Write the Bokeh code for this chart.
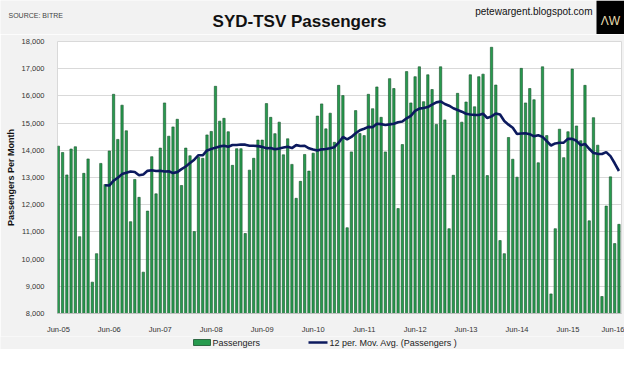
from bokeh.plotting import figure
from bokeh.layouts import column
from bokeh.models import FixedTicker, NumeralTickFormatter, Range1d
from bokeh.embed import file_html
from bokeh.resources import INLINE
from bokeh.core.properties import value
import pandas as pd

passengers = [
    14153, 13918, 13094, 14047, 14130, 10824, 13153, 13682, 9153, 10200, 13518, 12741,
    13976, 16059, 14400, 15659, 14718, 11376, 12929, 12271, 9520, 11765, 13765, 12400,
    14082, 15741, 14518, 14859, 15141, 12706, 14082, 13800, 11012, 13741, 13706, 14565,
    14694, 16353, 15071, 15176, 14682, 13447, 14059, 14059, 10941, 13271, 13706, 14376,
    14376, 15718, 15212, 14612, 15035, 13835, 14424, 13482, 12235, 12859, 13847, 13235,
    13894, 15259, 15706, 14788, 15365, 14294, 16388, 16012, 11153, 13941, 15459, 14620,
    14541, 16059, 15529, 16329, 15212, 13941, 16635, 16271, 11859, 14212, 16894, 15741,
    16706, 17071, 15788, 16776, 16235, 14953, 17071, 15118, 11118, 13082, 16094, 15035,
    15776, 16776, 15600, 16706, 16800, 13071, 17788, 16400, 10682, 10200, 14471, 13671,
    13012, 17012, 15741, 16271, 15859, 13541, 17071, 14541, 8720, 11118, 14776, 13729,
    14682, 16988, 14894, 14353, 16388, 11408, 15200, 14188, 8625, 11950, 13024, 10571,
    11278,
]
tick_labels = ["Jun-05", "Jun-06", "Jun-07", "Jun-08", "Jun-09", "Jun-10", "Jun-11",
               "Jun-12", "Jun-13", "Jun-14", "Jun-15", "Jun-16"]
y_ticks = [8000, 9000, 10000, 11000, 12000, 13000, 14000, 15000, 16000, 17000, 18000]
ma_window = 12

title_text = "SYD-TSV Passengers"
source_text = "SOURCE: BITRE"
site_text = "petewargent.blogspot.com"
logo_text = "ΛW"
legend_labels = ["Passengers", "12 per. Mov. Avg. (Passengers )"]

months = list(range(len(passengers)))
moving_avg = pd.Series(passengers).rolling(ma_window).mean().tolist()
label_positions = [i * 12 for i in range(len(tick_labels))]

SANS = "Liberation Sans"
BG = "#F2F2F2"
BAR_FILL = "#279B4E"
BAR_LINE = "#17502B"
MA_COLOR = "#0C1A5E"
W = 624


def blank(height):
    f = figure(width=W, height=height, output_backend="svg", toolbar_location=None,
               x_range=Range1d(0, W), y_range=Range1d(height, 0),
               min_border=0, background_fill_color=BG, border_fill_color=BG,
               outline_line_color=None, frame_align=False)
    f.axis.visible = False
    f.grid.visible = False
    return f


# ---------- header ----------
hdr = blank(34)
hdr.quad(left=[596], right=[624], top=[0], bottom=[34], fill_color="black", line_color=None)
hdr.text(x=[610], y=[20], text=[logo_text], text_align="center", text_baseline="middle",
         text_font=value(SANS), text_font_size="12px", text_color="#E6DDB0")
hdr.text(x=[8], y=[15], text=[source_text], text_align="left", text_baseline="middle",
         text_font=value(SANS), text_font_size="7px", text_color="#444444")
hdr.text(x=[299], y=[21], text=[title_text], text_align="center", text_baseline="middle",
         text_font=value(SANS), text_font_size="17px", text_font_style="bold",
         text_color="#111111")
hdr.text(x=[592], y=[11], text=[site_text], text_align="right", text_baseline="middle",
         text_font=value(SANS), text_font_size="10px", text_color="#111111")

# ---------- main chart ----------
p = figure(width=W, height=302, output_backend="svg", toolbar_location=None,
           x_range=Range1d(-0.2, 132.6), y_range=Range1d(8000, 18000),
           min_border_left=57, min_border_right=3, min_border_top=7, min_border_bottom=17,
           background_fill_color="white", border_fill_color=BG,
           outline_line_color="#D9D9D9", frame_align=False)

p.vbar(x=months, top=passengers, bottom=8000, width=0.55,
       fill_color=BAR_FILL, line_color=BAR_LINE, line_width=0.6)
p.line(x=months, y=moving_avg, line_color=MA_COLOR, line_width=2.6)

p.xgrid.visible = False
p.ygrid.grid_line_color = "#D9D9D9"
p.ygrid.grid_line_width = 1

p.yaxis.ticker = FixedTicker(ticks=y_ticks)
p.yaxis.formatter = NumeralTickFormatter(format="0,0")
p.yaxis.axis_line_color = None
p.yaxis.major_tick_line_color = None
p.yaxis.minor_tick_line_color = None
p.yaxis.major_label_text_font = SANS
p.yaxis.major_label_text_font_size = "7.5px"
p.yaxis.major_label_text_color = "#333333"
p.yaxis.major_label_standoff = 7
p.yaxis.axis_label = "Passengers Per Month"
p.yaxis.axis_label_text_font = SANS
p.yaxis.axis_label_text_font_style = "bold"
p.yaxis.axis_label_text_font_size = "9px"
p.yaxis.axis_label_text_color = "#111111"
p.yaxis.axis_label_standoff = 3

p.xaxis.ticker = FixedTicker(ticks=label_positions)
p.xaxis.major_label_overrides = {pos: lab for pos, lab in zip(label_positions, tick_labels)}
p.xaxis.axis_line_color = "#BFBFBF"
p.xaxis.major_tick_line_color = None
p.xaxis.minor_tick_line_color = None
p.xaxis.major_label_text_font = SANS
p.xaxis.major_label_text_font_size = "7.5px"
p.xaxis.major_label_text_color = "#333333"
p.xaxis.major_label_standoff = 5

# ---------- legend footer ----------
ftr = blank(13)
ftr.quad(left=[193], right=[210], top=[3], bottom=[9], fill_color=BAR_FILL,
         line_color=BAR_LINE, line_width=0.8)
ftr.text(x=[212], y=[6.5], text=[legend_labels[0]], text_align="left", text_baseline="middle",
         text_font=value(SANS), text_font_size="9px", text_color="#222222")
ftr.line(x=[308, 327], y=[6, 6], line_color=MA_COLOR, line_width=2.6)
ftr.text(x=[329], y=[6.5], text=[legend_labels[1]], text_align="left", text_baseline="middle",
         text_font=value(SANS), text_font_size="9px", text_color="#222222")

layout = column(hdr, p, ftr, spacing=0)
open("out.html", "w").write(file_html(layout, INLINE))
